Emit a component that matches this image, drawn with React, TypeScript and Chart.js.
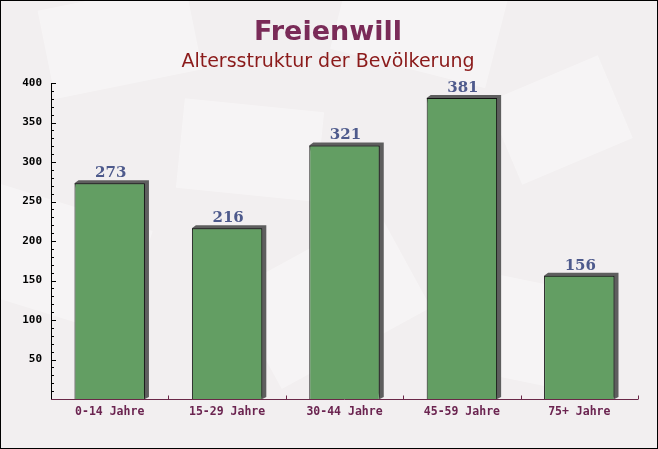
import React, { useEffect, useRef } from "react";
import { Chart, registerables } from "chart.js";

Chart.register(...registerables);

const categories = ["0-14 Jahre", "15-29 Jahre", "30-44 Jahre", "45-59 Jahre", "75+ Jahre"];
const values = [273, 216, 321, 381, 156];
const titleText = "Freienwill";
const subtitleText = "Altersstruktur der Bevölkerung";
const yMax = 400;
const yStep = 50;
const yMinorStep = 10;

const W = 658;
const H = 449;

const decorPlugin = {
  id: "decor",
  beforeDraw(chart: any) {
    const ctx = chart.ctx;
    ctx.save();
    ctx.fillStyle = "#f2eff0";
    ctx.fillRect(0, 0, W, H);
    const shapes = [
      [120, 40, 150, 90, -0.2],
      [420, 20, 160, 100, 0.25],
      [560, 120, 120, 90, -0.4],
      [60, 260, 160, 110, 0.3],
      [330, 300, 170, 110, -0.5],
      [520, 330, 150, 100, 0.2],
      [250, 150, 140, 90, 0.1],
    ];
    for (const [x, y, w, h, r] of shapes) {
      ctx.save();
      ctx.translate(x, y);
      ctx.rotate(r);
      ctx.fillStyle = "rgba(255,255,255,0.35)";
      ctx.fillRect(-w / 2, -h / 2, w, h);
      ctx.restore();
    }
    ctx.textAlign = "center";
    ctx.textBaseline = "alphabetic";
    ctx.fillStyle = "#7a2b58";
    ctx.font = "bold 27px 'DejaVu Sans'";
    ctx.fillText(titleText, 328, 40);
    ctx.fillStyle = "#8b1a1a";
    ctx.font = "19px 'DejaVu Sans'";
    ctx.fillText(subtitleText, 328, 67);
    ctx.restore();
  },
  beforeDatasetsDraw(chart: any) {
    const ctx = chart.ctx;
    const meta = chart.getDatasetMeta(0);
    ctx.save();
    ctx.fillStyle = "#5e5e5e";
    const d = 4;
    meta.data.forEach((bar: any) => {
      const p = bar.getProps(["x", "y", "base", "width"], true);
      const l = p.x - p.width / 2;
      const r = p.x + p.width / 2;
      ctx.beginPath();
      ctx.moveTo(l, p.y);
      ctx.lineTo(l + d, p.y - 3);
      ctx.lineTo(r + d, p.y - 3);
      ctx.lineTo(r + d, p.base - 2);
      ctx.lineTo(r, p.base);
      ctx.closePath();
      ctx.fill();
    });
    ctx.restore();
  },
  afterDatasetsDraw(chart: any) {
    const ctx = chart.ctx;
    const area = chart.chartArea;
    const ys = chart.scales.y;
    const xs = chart.scales.x;
    ctx.save();
    ctx.strokeStyle = "#000";
    ctx.lineWidth = 1;
    ctx.beginPath();
    ctx.moveTo(Math.round(area.left) + 0.5, area.top);
    ctx.lineTo(Math.round(area.left) + 0.5, area.bottom);
    for (let v = yMinorStep; v <= yMax; v += yMinorStep) {
      const py = Math.round(ys.getPixelForValue(v)) + 0.5;
      const len = v % yStep === 0 ? 5 : 3;
      ctx.moveTo(Math.round(area.left), py);
      ctx.lineTo(Math.round(area.left) + len, py);
    }
    ctx.stroke();
    ctx.strokeStyle = "#6a2848";
    ctx.beginPath();
    const by = Math.round(area.bottom) + 0.5;
    ctx.moveTo(area.left, by);
    ctx.lineTo(area.right, by);
    const half = (xs.getPixelForValue(1) - xs.getPixelForValue(0)) / 2;
    for (let i = 0; i < categories.length; i++) {
      const px = Math.round(xs.getPixelForValue(i) + half) + 0.5;
      ctx.moveTo(px, by);
      ctx.lineTo(px, by - 4);
    }
    ctx.stroke();
    const meta = chart.getDatasetMeta(0);
    ctx.fillStyle = "#4e5a8c";
    ctx.font = "bold 15px 'DejaVu Serif'";
    ctx.textAlign = "center";
    ctx.textBaseline = "alphabetic";
    meta.data.forEach((bar: any, i: number) => {
      const p = bar.getProps(["x", "y"], true);
      ctx.fillText(String(values[i]), p.x + 1, p.y - 6);
    });
    ctx.restore();
  },
  afterDraw(chart: any) {
    const ctx = chart.ctx;
    ctx.save();
    ctx.strokeStyle = "#000";
    ctx.lineWidth = 1;
    ctx.strokeRect(0.5, 0.5, W - 1, H - 1);
    ctx.restore();
  },
};

export default function App() {
  const ref = useRef<HTMLCanvasElement>(null);
  useEffect(() => {
    document.body.style.margin = "0";
    const chart = new Chart(ref.current as HTMLCanvasElement, {
      type: "bar",
      data: {
        labels: categories,
        datasets: [
          {
            data: values,
            backgroundColor: "#639e63",
            borderColor: "#111",
            borderWidth: 1,
            categoryPercentage: 1,
            barPercentage: 0.6,
          },
        ],
      },
      options: {
        animation: false,
        responsive: false,
        devicePixelRatio: 1,
        layout: { padding: { top: 83, right: 20, left: 0, bottom: 0 } },
        plugins: { legend: { display: false }, tooltip: { enabled: false }, title: { display: false } },
        scales: {
          x: {
            grid: { display: false, drawTicks: false },
            border: { display: false },
            ticks: {
              color: "#6b2450",
              font: { family: "'DejaVu Sans Mono'", size: 11.5, weight: "bold" },
              padding: 6,
              maxRotation: 0,
            },
            afterFit(scale: any) {
              scale.height = 50;
            },
          },
          y: {
            min: 0,
            max: yMax,
            grid: { display: false, drawTicks: false },
            border: { display: false },
            ticks: {
              stepSize: yStep,
              color: "#000",
              font: { family: "'DejaVu Sans Mono'", size: 11, weight: "bold" },
              padding: 9,
              callback: (v: any) => (v === 0 ? "" : String(v)),
            },
            afterFit(scale: any) {
              scale.width = 51;
            },
          },
        },
      },
      plugins: [decorPlugin],
    } as any);
    return () => chart.destroy();
  }, []);
  return (
    <div style={{ position: "absolute", left: 0, top: 0, width: W, height: H }}>
      <canvas ref={ref} width={W} height={H} style={{ display: "block", width: W, height: H }} />
    </div>
  );
}
